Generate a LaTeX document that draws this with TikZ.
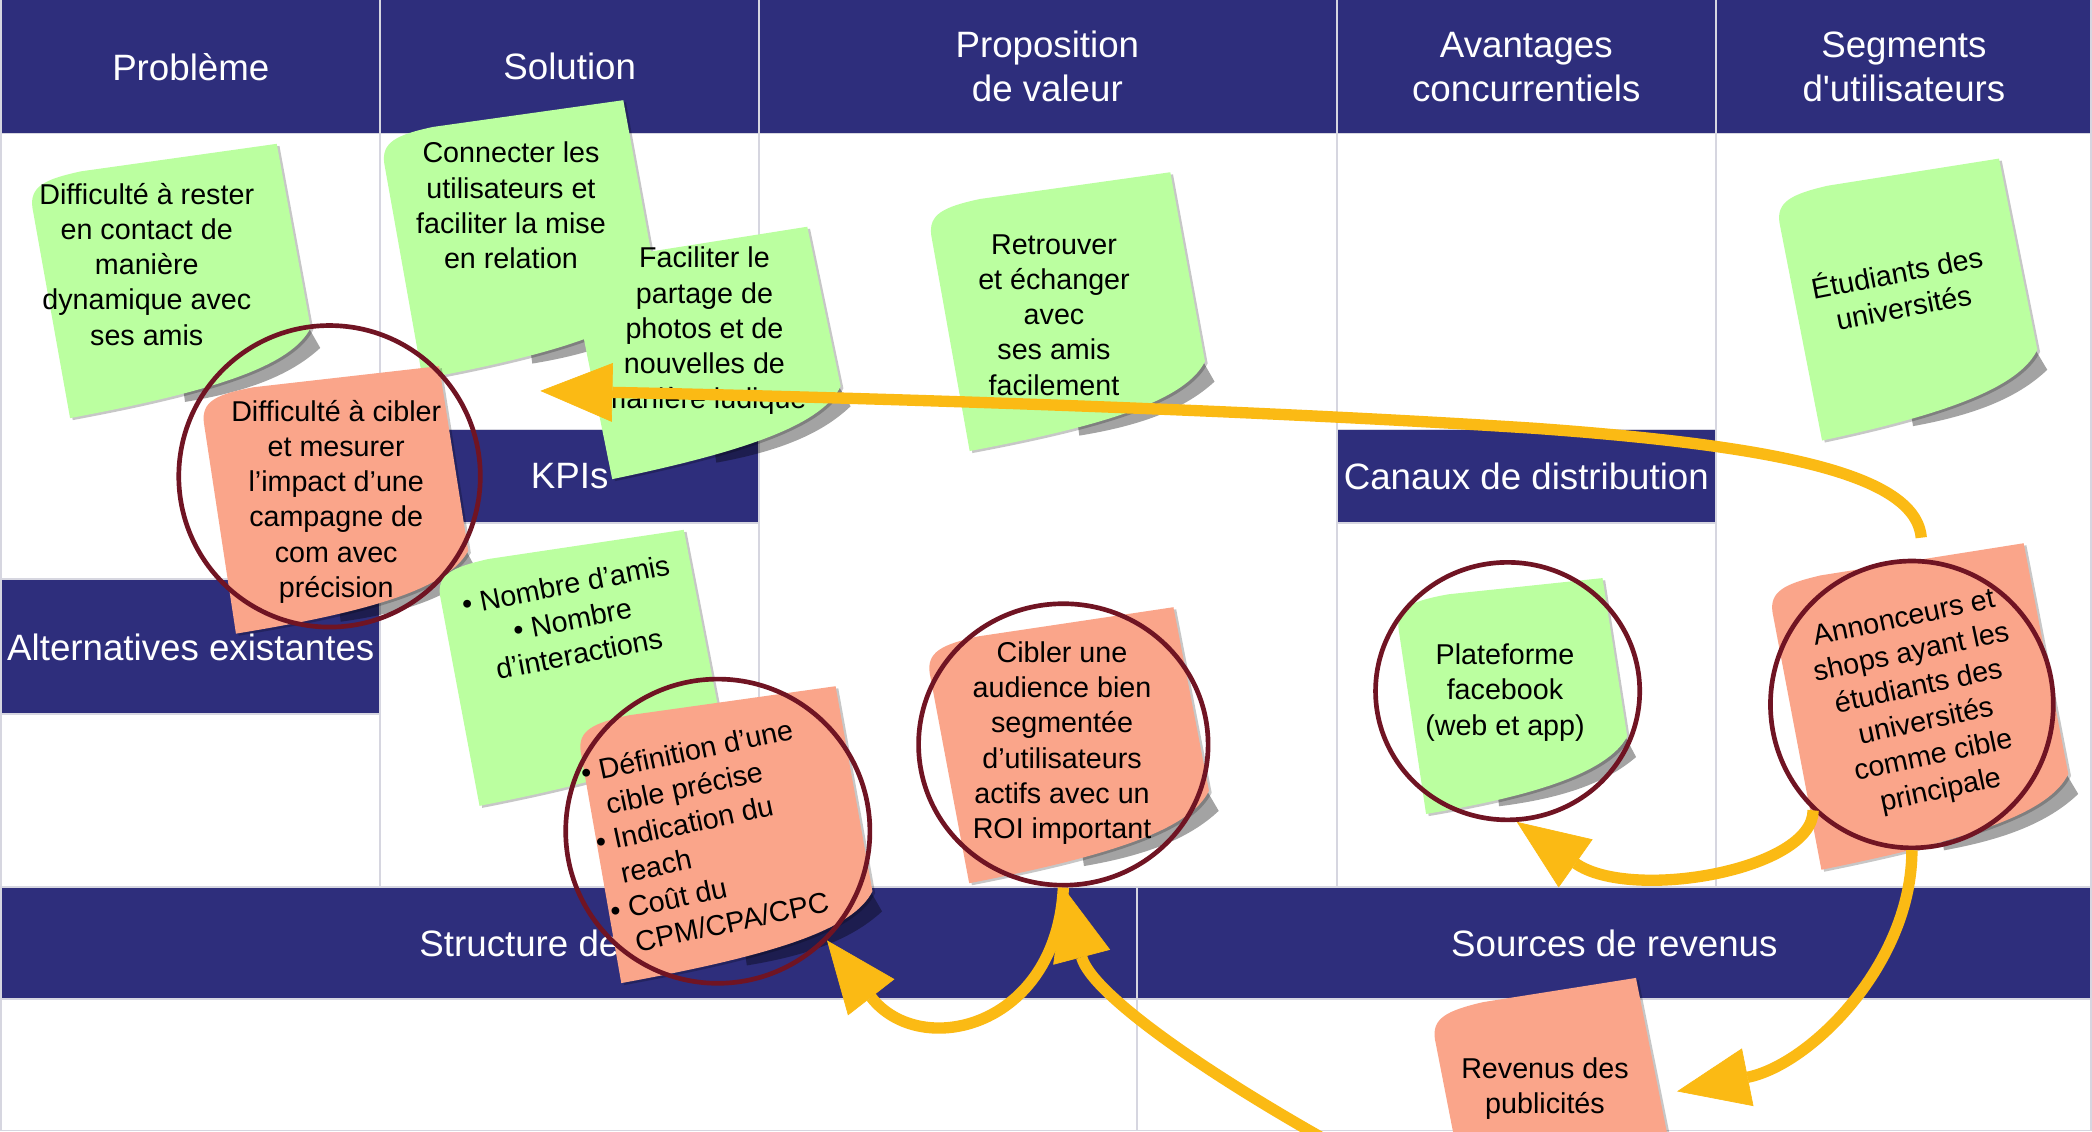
\documentclass[tikz,border=0pt]{standalone}
\usepackage{fontspec}
\setmainfont{Liberation Sans}
\usetikzlibrary{shapes.geometric,arrows.meta,calc}
\definecolor{navy}{RGB}{46,46,124}
\definecolor{notegreen}{RGB}{187,255,160}
\definecolor{notesalmon}{RGB}{250,165,138}
\definecolor{circred}{RGB}{112,20,35}
\definecolor{arrowor}{RGB}{251,186,20}
\definecolor{gridline}{RGB}{214,214,224}
% sticky note: #1 cx, #2 cy, #3 angle, #4 half width, #5 half height, #6 colour
\newcommand{\sticky}[6]{%
 \begin{scope}[shift={(#1,#2)},rotate=#3]
  \fill[black,opacity=.36] (#4+3,#5-46) -- (#4+11,#5-26) .. controls (#4-15,#5-8) and (#4-50,#5-1) .. (#4-95,#5) -- (#4-95,#5-9) -- cycle;
  \fill[black,opacity=.22,shift={(1.8,1.8)}] (-#4,-#5+22) .. controls (-#4,-#5+6) and (-#4+12,-#5+2) .. (-#4+40,-#5) -- (#4,-#5) -- (#4+6,#5-42) .. controls (#4-12,#5-16) and (#4-70,#5-5) .. (-#4+6,#5) -- cycle;
  \fill[#6] (-#4,-#5+22) .. controls (-#4,-#5+6) and (-#4+12,-#5+2) .. (-#4+40,-#5) -- (#4,-#5) -- (#4+6,#5-42) .. controls (#4-12,#5-16) and (#4-70,#5-5) .. (-#4+6,#5) -- cycle;
 \end{scope}}
\begin{document}
\begin{tikzpicture}[x=1pt,y=-1pt,
  head/.style={text=white,font=\fontsize{27.5}{33}\selectfont,align=center,inner sep=0pt},
  nt/.style={text=black,font=\fontsize{21.5}{26.4}\selectfont,align=center,inner sep=0pt},
  circ/.style={ellipse,draw=circred,line width=3.5pt,inner sep=0pt},
  arr/.style={draw=arrowor,line width=8.5pt,-{Triangle[length=54pt,width=44pt,line width=0.5pt]}},
  grid/.style={draw=gridline,line width=1.3pt}]
\useasboundingbox (0,0) rectangle (1568,848);
\clip (0,0) rectangle (1568,848);
\fill[white] (0,0) rectangle (1568,848);
% bands
\fill[navy] (0,0) rectangle (1568,100);
\fill[navy] (285,322) rectangle (569,392);
\fill[navy] (1002,322) rectangle (1286,392);
\fill[navy] (0,434) rectangle (285,535);
\fill[navy] (0,665) rectangle (1568,749);
% grid lines
\foreach \gx in {285,569,1002,1286} \draw[grid] (\gx,0) -- (\gx,665);
\draw[grid] (852,665) -- (852,848);
\draw[grid] (0,100) -- (1568,100);
\draw[grid] (0,665) -- (1568,665);
\draw[grid] (0,749) -- (1568,749);
\draw[grid] (285,322) -- (569,322) (285,392) -- (569,392);
\draw[grid] (1002,322) -- (1286,322) (1002,392) -- (1286,392);
\draw[grid] (0,434) -- (285,434) (0,535) -- (285,535);
\draw[grid] (0.6,0) -- (0.6,848) (1567.4,0) -- (1567.4,848) (0,847.4) -- (1568,847.4);
% headings
\node[head] (hprob) at (143,50) {Problème};
\node[head] (hsol) at (427,50) {Solution};
\node[head] (hprop) at (785,50) {Proposition\\de valeur};
\node[head] (hav) at (1144,50) {Avantages\\concurrentiels};
\node[head] (hseg) at (1427,50) {Segments\\d\textquotesingle utilisateurs};
\node[head] (hkpi) at (427,357) {KPIs};
\node[head] (hcan) at (1144,357) {Canaux de distribution};
\node[head] (halt) at (143,485) {Alternatives existantes};
\node[head] (hstr) at (426,707) {Structure de coûts};
\node[head] (hsrc) at (1210,707) {Sources de revenus};
% notes
\sticky{127}{211}{8}{94}{91}{notegreen}
\node[nt] (tp1) at (110,198) {Difficulté à rester\\en contact de\\manière\\dynamique avec\\ses amis};
\sticky{389}{180}{8}{92}{93}{notegreen}
\node[nt] (ts1) at (383,154) {Connecter les\\utilisateurs et\\faciliter la mise\\en relation};
\sticky{250}{375}{6.5}{90}{91}{notesalmon}
\node[nt] (tp2) at (252,376) {Difficulté à cibler\\et mesurer\\l’impact d’une\\campagne de\\com avec\\précision};
\node[circ,minimum width=226pt,minimum height=226pt] (p2c) at (247,357) {};
\sticky{529}{265}{9}{90}{82}{notegreen}
\node[nt] (ts2) at (528,248) {Faciliter le\\partage de\\photos et de\\nouvelles de\\manière ludique};
\sticky{433}{501}{8.5}{94}{91}{notegreen}
\node[nt,rotate=11] (tk1) at (429,464) {• Nombre d’amis\\• Nombre\\d’interactions};
\sticky{543}{626}{8}{98}{99}{notesalmon}
\node[nt,rotate=12] (tk2) at (529,630) {\begin{tabular}{@{}l@{ }l@{}}•&Définition d’une\\&cible précise\\•&Indication du\\&reach\\•&Coût du\\&CPM/CPA/CPC\end{tabular}};
\node[circ,minimum width=228pt,minimum height=228pt] (k2c) at (538,623) {};
\sticky{799}{234}{8}{92}{93}{notegreen}
\node[nt] (tv1) at (790,236) {Retrouver\\et échanger\\avec\\ses amis\\facilement};
\sticky{800}{559}{8.5}{94}{91}{notesalmon}
\node[nt] (tv2) at (796,557) {Cibler une\\audience bien\\segmentée\\d’utilisateurs\\actifs avec un\\ROI important};
\node[circ,minimum width=217pt,minimum height=211pt] (v2c) at (797,558) {};
\sticky{1429}{225}{9}{85}{94}{notegreen}
\node[nt,rotate=11] (tu1) at (1424,216) {Étudiants des\\universités};
\sticky{1132}{522}{6}{78}{81}{notegreen}
\node[nt] (tc1) at (1128,519) {Plateforme\\facebook\\(web et app)};
\node[circ,minimum width=198pt,minimum height=193pt] (c1c) at (1130,518) {};
\sticky{1438}{530}{9}{97}{109}{notesalmon}
\node[nt,rotate=12] (tu2) at (1441,529) {Annonceurs et\\shops ayant les\\étudiants des\\universités\\comme cible\\principale};
\node[circ,minimum width=212pt,minimum height=215pt] (u2c) at (1433,528) {};
\sticky{1164}{839}{9}{78}{95}{notesalmon}
\node[nt] (tr1) at (1158,816) {Revenus des\\publicités};
% arrows
\coordinate (a1s) at (1440,403);
\coordinate (a1e) at (405,293);
\coordinate (a3e) at (1257,818);
\coordinate (a4s) at (1000,858);
\draw[arr] (a1s) .. controls (1436,355) and (1330,334) .. (1150,321) .. controls (900,305) and (600,297) .. (a1e);
\draw[arr] (u2c.-133) .. controls +(0,45) and +(85,60) .. (c1c.-86);
\draw[arr] (u2c.south) .. controls +(0,85) and +(100,-20) .. (a3e);
\draw[arr] (v2c.south) .. controls (792,770) and (690,795) .. (k2c.-45);
\draw[arr] (a4s) .. controls (905,805) and (818,745) .. (v2c.south);
\end{tikzpicture}
\end{document}
